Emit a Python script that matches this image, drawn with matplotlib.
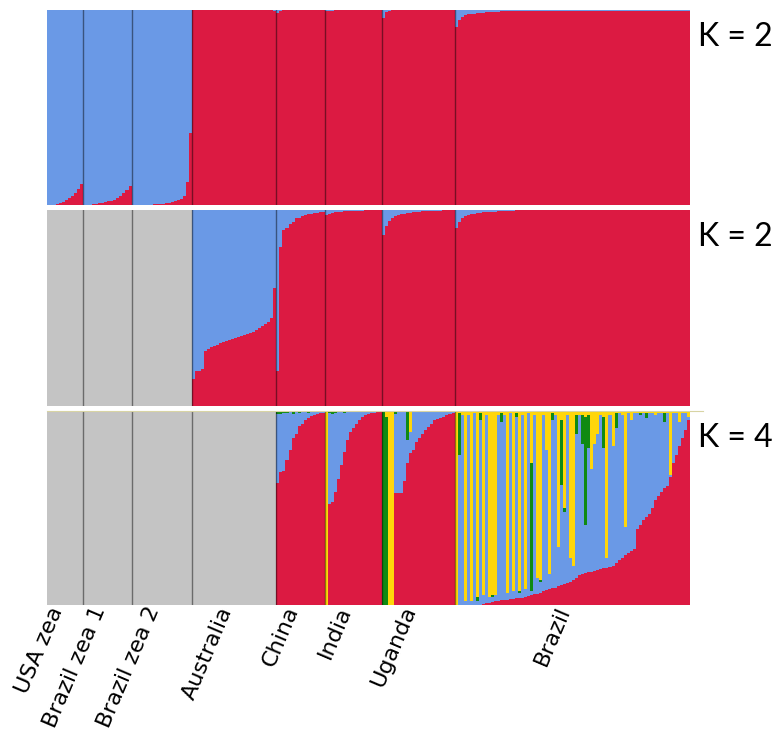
import numpy as np
import matplotlib.pyplot as plt
from matplotlib.lines import Line2D

# Sampling groups, in plotting order, and number of individuals in each
GROUPS = ["USA zea", "Brazil zea 1", "Brazil zea 2", "Australia",
          "China", "India", "Uganda", "Brazil"]
GROUP_SIZES = [12, 16, 20, 28, 16, 19, 24, 78]

# Run 1, K = 2: membership in the red cluster (blue is the rest), all groups
K2A_RED = [
    # USA zea
    0.0, 0.0, 0.0, 0.005, 0.01, 0.015, 0.025, 0.035, 0.045, 0.06, 0.08, 0.11,
    # Brazil zea 1
    0.0, 0.0, 0.0, 0.003, 0.005, 0.008, 0.01, 0.015, 0.018, 0.022, 0.028,
    0.035, 0.045, 0.06, 0.075, 0.095,
    # Brazil zea 2
    0.0, 0.0, 0.0, 0.0, 0.0, 0.0, 0.002, 0.003, 0.004, 0.005, 0.007, 0.009,
    0.012, 0.015, 0.02, 0.026, 0.032, 0.045, 0.12, 0.37,
    # Australia
    1.0, 1.0, 1.0, 1.0, 1.0, 1.0, 1.0, 1.0, 1.0, 1.0, 1.0, 1.0, 1.0, 1.0,
    1.0, 1.0, 1.0, 1.0, 1.0, 1.0, 1.0, 1.0, 1.0, 1.0, 1.0, 1.0, 1.0, 0.995,
    # China
    0.985, 0.995, 1.0, 1.0, 1.0, 1.0, 1.0, 1.0, 1.0, 1.0, 1.0, 1.0, 1.0, 1.0,
    1.0, 1.0,
    # India
    0.995, 0.995, 0.997, 1.0, 1.0, 1.0, 1.0, 1.0, 1.0, 1.0, 1.0, 1.0, 1.0,
    1.0, 1.0, 1.0, 1.0, 1.0, 1.0,
    # Uganda
    0.96, 0.99, 0.995, 1.0, 1.0, 1.0, 1.0, 1.0, 1.0, 1.0, 1.0, 1.0, 1.0, 1.0,
    1.0, 1.0, 1.0, 1.0, 1.0, 1.0, 1.0, 1.0, 1.0, 1.0,
    # Brazil
    0.915, 0.95, 0.965, 0.975, 0.978, 0.98, 0.982, 0.985, 0.985, 0.987,
    0.988, 0.99, 0.99, 0.99, 0.992, 0.993, 0.993, 0.995, 0.995, 0.996,
    0.997, 0.997, 0.997, 0.997, 0.997, 0.997, 0.997, 0.997, 0.997, 0.997,
    0.997, 0.997, 0.997, 0.997, 0.997, 0.997, 0.997, 0.997, 0.997, 0.997,
    0.997, 0.997, 0.997, 0.997, 0.997, 0.997, 0.997, 0.997, 0.997, 0.997,
    0.997, 0.997, 0.997, 0.997, 0.997, 0.997, 0.997, 0.997, 0.997, 0.997,
    0.997, 0.997, 0.997, 0.997, 0.997, 0.997, 0.997, 0.997, 0.997, 0.997,
    0.997, 0.997, 0.997, 0.997, 0.997, 0.997, 0.997, 0.997,
]

# Run 2, K = 2: zea groups left out (drawn grey)
K2B_GROUPS = ["Australia", "China", "India", "Uganda", "Brazil"]
K2B_RED = [
    # Australia
    0.14, 0.18, 0.18, 0.19, 0.28, 0.29, 0.30, 0.305, 0.31, 0.32, 0.325, 0.33,
    0.335, 0.34, 0.345, 0.35, 0.355, 0.36, 0.365, 0.37, 0.38, 0.39, 0.40,
    0.41, 0.42, 0.43, 0.45, 0.60,
    # China
    0.18, 0.81, 0.90, 0.91, 0.93, 0.94, 0.96, 0.96, 0.97, 0.975, 0.98, 0.98,
    0.985, 0.985, 0.99, 0.99,
    # India
    0.975, 0.98, 0.985, 0.99, 0.99, 0.99, 0.995, 0.995, 0.995, 0.995, 0.997,
    0.997, 0.997, 1.0, 1.0, 1.0, 1.0, 1.0, 1.0,
    # Uganda
    0.87, 0.92, 0.945, 0.96, 0.97, 0.975, 0.98, 0.98, 0.985, 0.985, 0.99,
    0.99, 0.99, 0.993, 0.993, 0.995, 0.995, 0.995, 0.997, 0.997, 1.0, 1.0,
    1.0, 1.0,
    # Brazil
    0.91, 0.94, 0.96, 0.97, 0.975, 0.98, 0.98, 0.985, 0.985, 0.988, 0.99,
    0.99, 0.99, 0.992, 0.993, 0.994, 0.995, 0.995, 0.996, 0.997,
    0.998, 0.998, 0.998, 0.998, 0.998, 0.998, 0.998, 0.998, 0.998, 0.998,
    0.998, 0.998, 0.998, 0.998, 0.998, 0.998, 0.998, 0.998, 0.998, 0.998,
    0.998, 0.998, 0.998, 0.998, 0.998, 0.998, 0.998, 0.998, 0.998, 0.998,
    0.998, 0.998, 0.998, 0.998, 0.998, 0.998, 0.998, 0.998, 0.998, 0.998,
    0.998, 0.998, 0.998, 0.998, 0.998, 0.998, 0.998, 0.998, 0.998, 0.998,
    0.998, 0.998, 0.998, 0.998, 0.998, 0.998, 0.998, 0.998,
]

# Run 3, K = 4: red, green and yellow memberships (blue is the rest)
K4_GROUPS = ["China", "India", "Uganda", "Brazil"]
K4_RED = [
    # China
    0.63, 0.685, 0.69, 0.745, 0.80, 0.86, 0.88, 0.92, 0.93, 0.95, 0.96,
    0.975, 0.98, 0.985, 0.99, 0.99,
    # India
    0.0, 0.52, 0.53, 0.58, 0.65, 0.72, 0.79, 0.85, 0.89, 0.91, 0.93, 0.95,
    0.97, 0.98, 0.985, 0.99, 0.99, 0.995, 0.995,
    # Uganda
    0.0, 0.0, 0.0, 0.0, 0.574, 0.574, 0.574, 0.64, 0.73, 0.78, 0.80, 0.84,
    0.86, 0.88, 0.90, 0.917, 0.93, 0.95, 0.955, 0.96, 0.97, 0.98, 0.985, 0.99,
    # Brazil
    0.0, 0.0, 0.0, 0.0, 0.0, 0.0, 0.0, 0.0, 0.0, 0.005,
    0.008, 0.012, 0.017, 0.02, 0.022, 0.024, 0.026, 0.028, 0.03, 0.032,
    0.034, 0.035, 0.036, 0.04, 0.045, 0.05, 0.055, 0.058, 0.06, 0.07,
    0.075, 0.08, 0.085, 0.09, 0.097, 0.105, 0.11, 0.115, 0.12, 0.128,
    0.14, 0.154, 0.16, 0.163, 0.168, 0.171, 0.175, 0.18, 0.185, 0.19,
    0.19, 0.195, 0.20, 0.215, 0.23, 0.24, 0.255, 0.27, 0.28, 0.29,
    0.39, 0.41, 0.44, 0.455, 0.47, 0.50, 0.54, 0.56, 0.58, 0.60,
    0.61, 0.66, 0.73, 0.77, 0.82, 0.86, 0.90, 0.95,
]
K4_GREEN = [
    # China
    0.01, 0.01, 0.005, 0.005, 0.0, 0.01, 0.0, 0.005, 0.0, 0.0, 0.005, 0.0,
    0.0, 0.0, 0.0, 0.0,
    # India
    0.0, 0.005, 0.01, 0.005, 0.0, 0.0, 0.005, 0.0, 0.0, 0.0, 0.0, 0.0, 0.0,
    0.0, 0.0, 0.0, 0.0, 0.0, 0.0,
    # Uganda
    1.0, 0.97, 0.0, 0.0, 0.01, 0.0, 0.0, 0.0, 0.145, 0.0, 0.0, 0.0, 0.0, 0.0,
    0.0, 0.0, 0.0, 0.0, 0.0, 0.0, 0.0, 0.0, 0.0, 0.0,
    # Brazil
    0.0, 0.22, 0.0, 0.0, 0.0, 0.0, 0.0, 0.02, 0.04, 0.0,
    0.0, 0.0, 0.01, 0.0, 0.0, 0.05, 0.0, 0.0, 0.0, 0.0,
    0.02, 0.01, 0.0, 0.0, 0.0, 0.66, 0.0, 0.0, 0.01, 0.0,
    0.0, 0.0, 0.04, 0.0, 0.0, 0.33, 0.02, 0.0, 0.0, 0.0,
    0.10, 0.0, 0.15, 0.56, 0.17, 0.0, 0.0, 0.0, 0.0, 0.16,
    0.0, 0.0, 0.0, 0.08, 0.0, 0.0, 0.0, 0.0, 0.0, 0.0,
    0.0, 0.01, 0.0, 0.03, 0.0, 0.0, 0.0, 0.0, 0.0, 0.05,
    0.0, 0.0, 0.0, 0.0, 0.0, 0.0, 0.0, 0.0,
]
K4_YELLOW = [
    # China
    0.005, 0.005, 0.005, 0.005, 0.005, 0.005, 0.005, 0.005, 0.005, 0.005,
    0.005, 0.005, 0.005, 0.005, 0.005, 0.005,
    # India
    1.0, 0.005, 0.005, 0.005, 0.005, 0.005, 0.005, 0.005, 0.005, 0.005,
    0.005, 0.005, 0.005, 0.005, 0.005, 0.005, 0.005, 0.005, 0.005,
    # Uganda
    0.0, 0.03, 1.0, 1.0, 0.005, 0.005, 0.005, 0.005, 0.005, 0.11, 0.005,
    0.005, 0.005, 0.005, 0.005, 0.005, 0.005, 0.005, 0.005, 0.005, 0.005,
    0.005, 0.005, 0.005,
    # Brazil
    1.0, 0.01, 0.02, 0.98, 0.02, 0.98, 0.01, 0.96, 0.01, 0.95,
    0.02, 0.96, 0.95, 0.95, 0.02, 0.01, 0.02, 0.94, 0.01, 0.93,
    0.01, 0.93, 0.02, 0.92, 0.01, 0.27, 0.02, 0.86, 0.87, 0.02,
    0.20, 0.84, 0.01, 0.02, 0.70, 0.05, 0.50, 0.02, 0.76, 0.80,
    0.02, 0.02, 0.02, 0.03, 0.02, 0.30, 0.17, 0.12, 0.02, 0.03,
    0.76, 0.02, 0.18, 0.01, 0.01, 0.02, 0.60, 0.01, 0.05, 0.01,
    0.01, 0.01, 0.01, 0.01, 0.01, 0.01, 0.02, 0.01, 0.01, 0.01,
    0.01, 0.33, 0.01, 0.01, 0.06, 0.01, 0.01, 0.03,
]

RED = "#dc1a42"
BLUE = "#6a99e6"
GREEN = "#0f8a12"
YELLOW = "#ffd60a"
GREY = "#c4c4c4"

N = sum(GROUP_SIZES)
starts = np.cumsum([0] + GROUP_SIZES[:-1])
centers = starts + np.array(GROUP_SIZES) / 2


def spread(run_groups, values):
    """Place a run's per-individual values on the full x axis (NaN = not run)."""
    full = np.full(N, np.nan)
    pos = 0
    for name in run_groups:
        i = GROUPS.index(name)
        n = GROUP_SIZES[i]
        full[starts[i]:starts[i] + n] = values[pos:pos + n]
        pos += n
    return full


def stepfill(ax, lower, upper, color):
    # one bar per individual, drawn as a single stepped band so that
    # neighbouring bars of the same colour leave no seams
    edges = np.arange(N + 1)
    lo = np.append(lower, lower[-1])
    hi = np.append(upper, upper[-1])
    ax.fill_between(edges, lo, hi, step="post", color=color, linewidth=0)


def draw_run(ax, layers):
    missing = np.isnan(layers[0][0])
    stepfill(ax, np.zeros(N), missing.astype(float), GREY)
    bottom = np.zeros(N)
    for vals, color in layers:
        v = np.nan_to_num(vals)
        stepfill(ax, bottom, bottom + v, color)
        bottom = bottom + v
    for b in starts[1:]:
        ax.axvline(b, color="black", alpha=0.45, linewidth=1.0)
    ax.set_xlim(0, N)
    ax.set_ylim(0, 1)
    ax.axis("off")


W, H = 774, 736
fig = plt.figure(figsize=(W / 100, H / 100), dpi=100)
fig.patch.set_facecolor("white")


def panel(top, bottom):
    return fig.add_axes([47 / W, 1 - bottom / H, 643 / W, (bottom - top) / H])


ax1 = panel(10, 205)
ax2 = panel(210, 406)
ax3 = panel(410.7, 605)

red_a = np.array(K2A_RED)
draw_run(ax1, [(red_a, RED), (1 - red_a, BLUE)])

red_b = spread(K2B_GROUPS, K2B_RED)
draw_run(ax2, [(red_b, RED), (1 - red_b, BLUE)])

red_c = spread(K4_GROUPS, K4_RED)
green_c = spread(K4_GROUPS, K4_GREEN)
yellow_c = spread(K4_GROUPS, K4_YELLOW)
blue_c = np.clip(1 - red_c - green_c - yellow_c, 0, None)
draw_run(ax3, [(red_c, RED), (blue_c, BLUE), (green_c, GREEN),
               (yellow_c, YELLOW)])

# faint rule along the top of the last run
fig.add_artist(Line2D([47 / W, 703 / W], [1 - 410.5 / H] * 2,
                      color="#d8d4a4", linewidth=0.8))

for ax, k in zip((ax1, ax2, ax3), (2, 2, 4)):
    ax.text(1.013, 0.86, f"K = {k}", transform=ax.transAxes, fontsize=23,
            family="Lato", color="black", ha="left", va="center")

for name, c in zip(GROUPS, centers):
    ax3.annotate(name, xy=(c, 0), xycoords=ax3.get_xaxis_transform(),
                 xytext=(-12, 1), textcoords="offset points",
                 rotation=67, rotation_mode="anchor", ha="right", va="top",
                 fontsize=16, color="black")

fig.savefig("out.png", dpi=100, facecolor="white")
